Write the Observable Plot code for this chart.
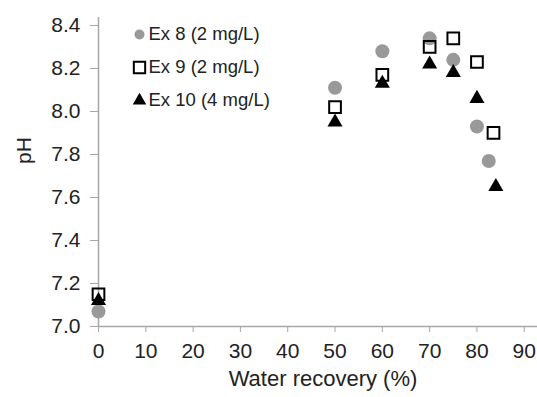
<!DOCTYPE html>
<html><head><meta charset="utf-8">
<script src="https://cdn.jsdelivr.net/npm/d3@7"></script>
<script src="https://cdn.jsdelivr.net/npm/@observablehq/plot@0.6"></script>
<style>body{margin:0;background:#fff}</style>
</head><body><div id="chart"></div>
<script>
const seriesNames = ["Ex 8 (2 mg/L)", "Ex 9 (2 mg/L)", "Ex 10 (4 mg/L)"];
const ex8Recovery = [0, 50, 60, 70, 75, 80, 82.5];
const ex8pH = [7.07, 8.11, 8.28, 8.34, 8.24, 7.93, 7.77];
const ex9Recovery = [0, 50, 60, 70, 75, 80, 83.5];
const ex9pH = [7.15, 8.02, 8.17, 8.30, 8.34, 8.23, 7.90];
const ex10Recovery = [0, 50, 60, 70, 75, 80, 84];
const ex10pH = [7.12, 7.95, 8.13, 8.22, 8.18, 8.06, 7.65];
const xTicks = [0, 10, 20, 30, 40, 50, 60, 70, 80, 90];
const yTicks = [7.0, 7.2, 7.4, 7.6, 7.8, 8.0, 8.2, 8.4];
const xLabel = "Water recovery (%)";
const yLabel = "pH";

const toRows = (xs, ys) => xs.map((x, i) => ({x, y: ys[i]}));
const d8 = toRows(ex8Recovery, ex8pH);
const d9 = toRows(ex9Recovery, ex9pH);
const d10 = toRows(ex10Recovery, ex10pH);

const xDomain = [0, 92.8];
const yDomain = [7.0, 8.437];
const font = "'Liberation Sans', Arial, Helvetica, sans-serif";
const axisGray = "#a6a6a6";

const styles = [
  {symbol: "circle", fill: "#999999", stroke: "none", rl: 5},
  {symbol: "square", fill: "none", stroke: "#000", rl: 6.4, strokeWidth: 2},
  {symbol: "triangle", fill: "#000", stroke: "none", rl: 5}
];

const legendMarks = seriesNames.flatMap((name, i) => [
  Plot.dot([name], {frameAnchor: "top-left", dx: 41, dy: 17 + 33 * i,
    symbol: styles[i].symbol, r: styles[i].rl, fill: styles[i].fill,
    stroke: styles[i].stroke, strokeWidth: styles[i].strokeWidth || 1}),
  Plot.text([name], {frameAnchor: "top-left", dx: 50, dy: 17 + 33 * i,
    text: d => d, textAnchor: "start", lineAnchor: "middle", fontSize: 18.5, fill: "#222"})
]);

const chart = Plot.plot({
  width: 537, height: 397,
  marginLeft: 98, marginRight: 0, marginTop: 17, marginBottom: 71,
  style: {fontFamily: font, fontSize: "21px", color: "#222", background: "#fff"},
  x: {domain: xDomain},
  y: {domain: yDomain},
  marks: [
    Plot.axisX({ticks: xTicks, tickSize: 6, tickPadding: 11, stroke: axisGray, fill: "#222",
      tickFormat: d => String(d), label: null}),
    Plot.axisY({ticks: yTicks, tickSize: 8, tickPadding: 10, stroke: axisGray, fill: "#222",
      tickFormat: d3.format(".1f"), label: null}),
    Plot.ruleX([xDomain[0]], {stroke: axisGray, strokeWidth: 1.5}),
    Plot.ruleY([yDomain[0]], {stroke: axisGray, strokeWidth: 1.5}),
    Plot.text([xLabel], {frameAnchor: "bottom", dx: 5, dy: 59, text: d => d,
      lineAnchor: "bottom", fontSize: 22, fill: "#222"}),
    Plot.text([yLabel], {frameAnchor: "left", dx: -74, dy: -8, rotate: -90, text: d => d,
      lineAnchor: "middle", fontSize: 21, fill: "#222"}),
    Plot.dot(d8, {x: "x", y: "y", symbol: "circle", r: 7, fill: "#999999"}),
    Plot.dot(d9, {x: "x", y: "y", symbol: "square", r: 6.6, fill: "none", stroke: "#000", strokeWidth: 2}),
    Plot.dot(d10, {x: "x", y: "y", symbol: "triangle", r: 5.6, fill: "#000"}),
    ...legendMarks
  ]
});
document.getElementById("chart").append(chart);
</script>
</body></html>
